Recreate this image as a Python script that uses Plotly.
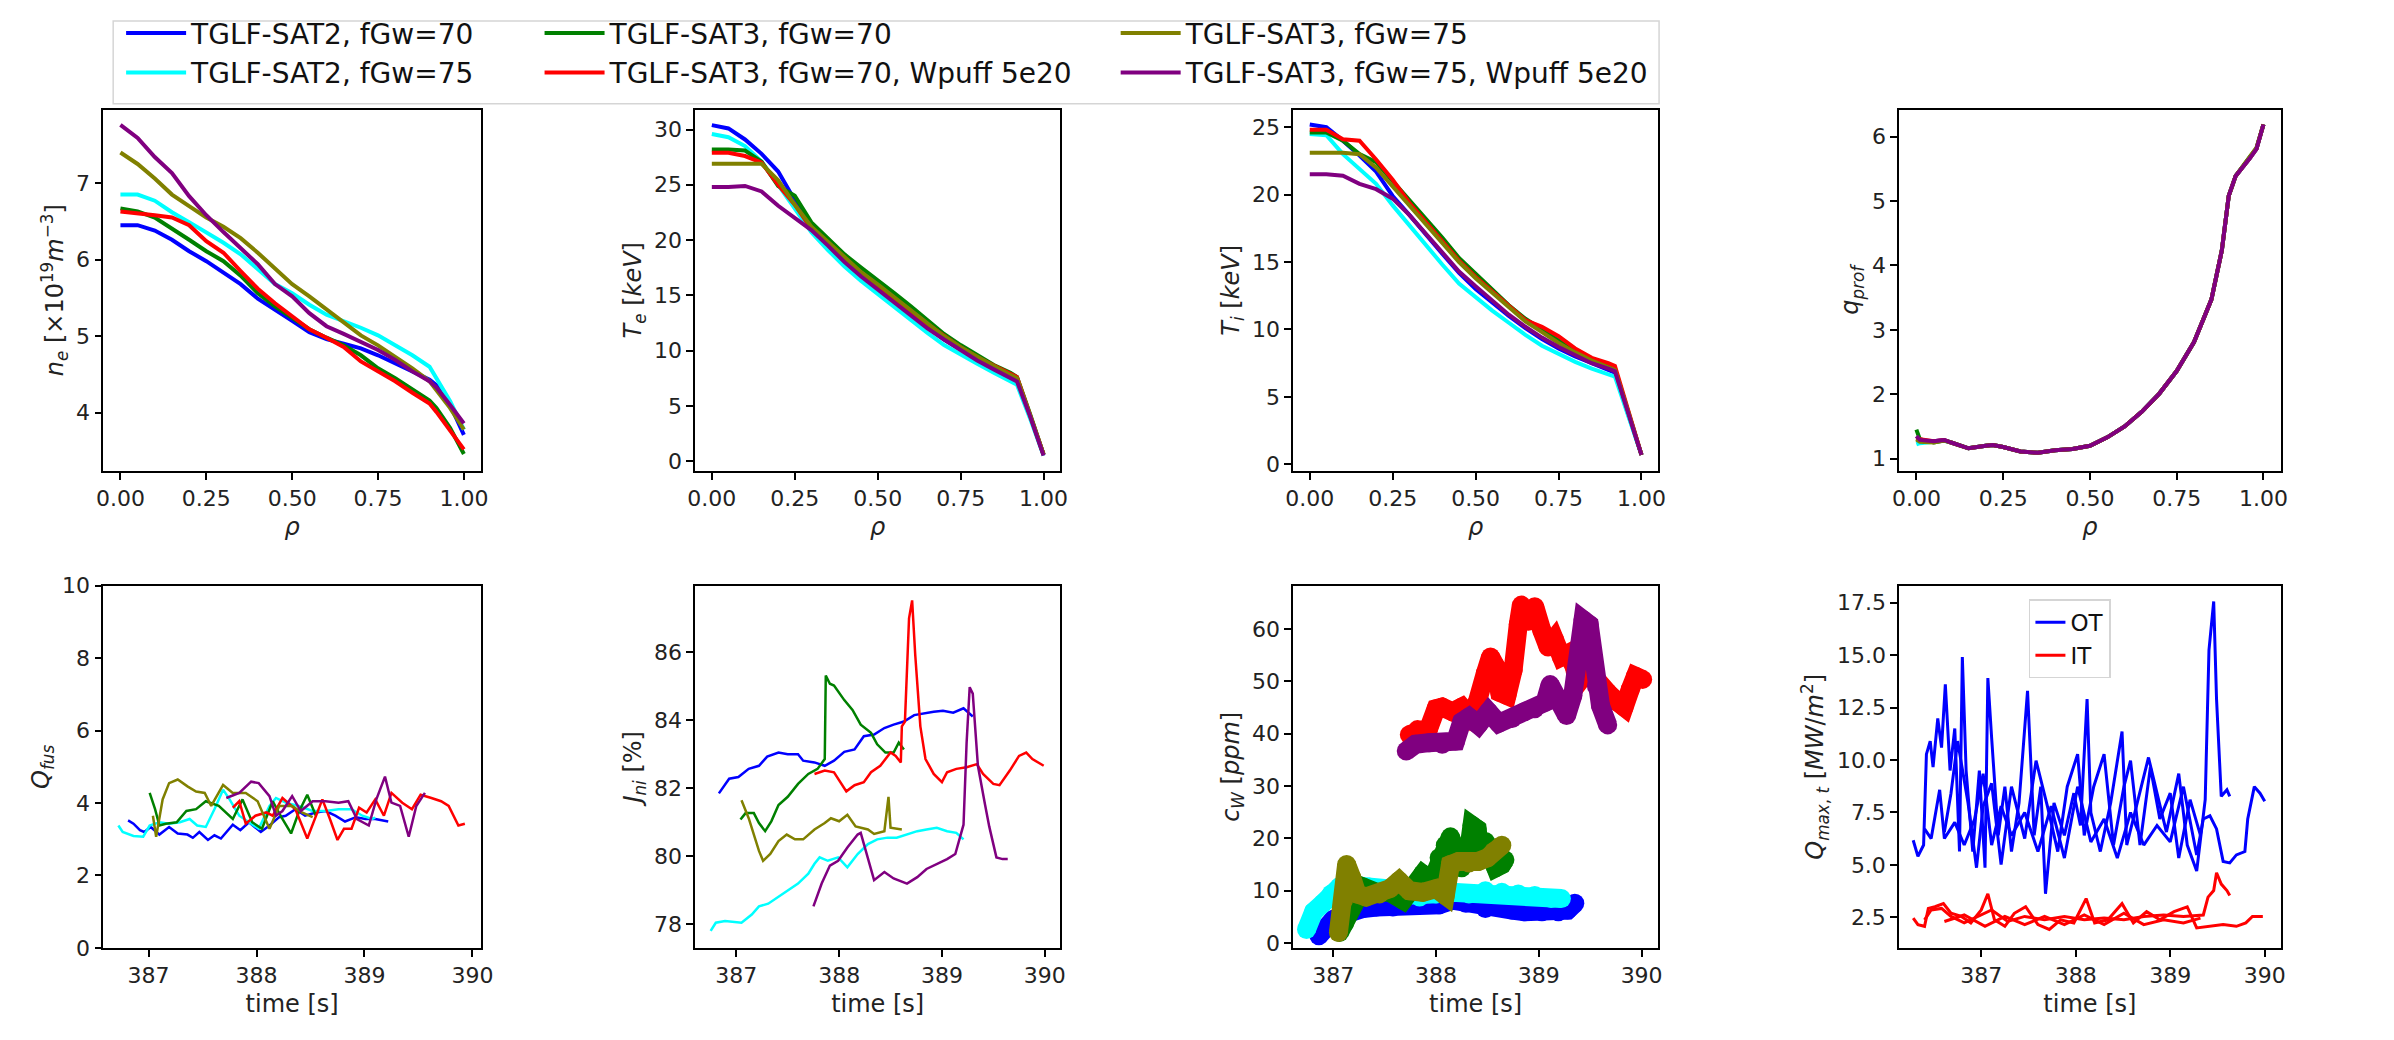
import plotly.graph_objects as go
from plotly.subplots import make_subplots

# ---- profile grid ----
rho = [0.0, 0.05, 0.1, 0.15, 0.2, 0.25, 0.3, 0.35, 0.4, 0.45, 0.5, 0.55, 0.6, 0.65, 0.7, 0.75, 0.8, 0.85, 0.9, 0.92, 0.96, 1.0]

# electron density [1e19 m^-3]
ne_b = [6.45, 6.45, 6.38, 6.26, 6.11, 5.98, 5.83, 5.68, 5.49, 5.35, 5.20, 5.05, 4.96, 4.90, 4.84, 4.75, 4.65, 4.54, 4.43, 4.36, 4.10, 3.71]
ne_c = [6.85, 6.85, 6.77, 6.62, 6.49, 6.36, 6.22, 6.07, 5.88, 5.68, 5.56, 5.41, 5.28, 5.20, 5.11, 5.01, 4.88, 4.75, 4.60, 4.45, 4.15, 3.78]
ne_g = [6.67, 6.63, 6.55, 6.41, 6.26, 6.11, 5.98, 5.79, 5.56, 5.39, 5.24, 5.09, 4.98, 4.88, 4.75, 4.58, 4.45, 4.31, 4.16, 4.06, 3.80, 3.46]
ne_r = [6.63, 6.61, 6.58, 6.55, 6.45, 6.24, 6.09, 5.85, 5.62, 5.43, 5.26, 5.09, 4.98, 4.86, 4.67, 4.54, 4.41, 4.26, 4.12, 4.01, 3.76, 3.52]
ne_o = [7.40, 7.25, 7.06, 6.85, 6.70, 6.55, 6.43, 6.28, 6.09, 5.88, 5.68, 5.52, 5.35, 5.18, 5.01, 4.88, 4.73, 4.58, 4.41, 4.30, 4.06, 3.78]
ne_p = [7.76, 7.59, 7.34, 7.13, 6.83, 6.58, 6.36, 6.15, 5.94, 5.68, 5.52, 5.30, 5.13, 5.03, 4.92, 4.82, 4.69, 4.54, 4.41, 4.33, 4.10, 3.86]

# electron temperature [keV]
te_b = [30.4, 30.1, 29.1, 27.8, 26.2, 23.6, 21.4, 19.8, 18.3, 16.9, 15.8, 14.6, 13.3, 12.1, 11.0, 10.1, 9.2, 8.4, 7.7, 7.3, 4.0, 0.6]
te_c = [29.6, 29.3, 28.5, 27.1, 25.0, 22.8, 20.7, 19.1, 17.6, 16.3, 15.1, 13.9, 12.7, 11.6, 10.5, 9.6, 8.8, 8.0, 7.2, 6.9, 3.8, 0.5]
te_g = [28.2, 28.2, 28.1, 27.1, 24.9, 24.0, 21.6, 20.2, 18.7, 17.5, 16.4, 15.2, 14.0, 12.8, 11.5, 10.5, 9.6, 8.7, 8.0, 7.6, 4.2, 0.6]
te_r = [27.9, 27.9, 27.6, 27.0, 25.0, 23.2, 21.0, 19.6, 18.2, 16.9, 15.9, 14.8, 13.6, 12.4, 11.3, 10.3, 9.4, 8.6, 7.9, 7.6, 4.2, 0.6]
te_o = [26.9, 26.9, 26.9, 26.9, 25.4, 23.2, 21.2, 19.8, 18.4, 17.1, 16.0, 14.8, 13.6, 12.4, 11.3, 10.3, 9.4, 8.6, 7.8, 7.5, 4.1, 0.6]
te_p = [24.8, 24.8, 24.9, 24.4, 23.1, 22.0, 20.9, 19.5, 18.0, 16.7, 15.5, 14.3, 13.1, 12.0, 11.0, 10.0, 9.1, 8.3, 7.5, 7.2, 4.0, 0.5]

# ion temperature [keV]
ti_b = [25.2, 25.0, 24.0, 22.9, 21.7, 19.9, 18.5, 17.0, 15.6, 14.2, 13.0, 12.0, 11.0, 10.1, 9.3, 8.6, 8.0, 7.5, 7.0, 6.8, 3.7, 0.7]
ti_c = [24.5, 24.4, 23.0, 21.9, 20.8, 19.2, 17.7, 16.2, 14.8, 13.4, 12.4, 11.4, 10.5, 9.6, 8.8, 8.2, 7.6, 7.1, 6.7, 6.5, 3.6, 0.7]
ti_g = [24.6, 24.6, 24.0, 23.0, 22.4, 21.0, 19.7, 18.2, 16.8, 15.3, 14.1, 12.9, 11.8, 10.8, 10.0, 9.2, 8.4, 7.8, 7.3, 7.1, 3.9, 0.7]
ti_r = [24.8, 24.8, 24.1, 24.0, 22.6, 21.1, 19.4, 18.0, 16.5, 15.1, 13.9, 12.8, 11.7, 10.7, 10.2, 9.5, 8.6, 7.9, 7.5, 7.3, 4.0, 0.7]
ti_o = [23.1, 23.1, 23.1, 23.0, 22.0, 20.6, 19.2, 17.8, 16.4, 15.0, 13.8, 12.7, 11.6, 10.6, 9.8, 9.0, 8.3, 7.7, 7.2, 7.0, 3.9, 0.7]
ti_p = [21.5, 21.5, 21.4, 20.8, 20.4, 19.7, 18.5, 17.1, 15.7, 14.3, 13.2, 12.1, 11.1, 10.2, 9.4, 8.7, 8.1, 7.5, 7.1, 6.9, 3.8, 0.7]

# safety factor
rho_q = [0.0, 0.01, 0.05, 0.08, 0.1, 0.15, 0.2, 0.22, 0.25, 0.3, 0.35, 0.4, 0.45, 0.5, 0.55, 0.6, 0.65, 0.7, 0.75, 0.8, 0.85, 0.88, 0.9, 0.92, 0.96, 0.98, 1.0]
q_b = [1.28, 1.28, 1.27, 1.29, 1.25, 1.16, 1.20, 1.21, 1.18, 1.11, 1.09, 1.13, 1.15, 1.20, 1.33, 1.50, 1.73, 2.01, 2.36, 2.81, 3.47, 4.23, 5.08, 5.39, 5.66, 5.81, 6.19]
q_c = [1.22, 1.24, 1.26, 1.28, 1.25, 1.16, 1.20, 1.21, 1.18, 1.11, 1.09, 1.13, 1.15, 1.20, 1.33, 1.50, 1.73, 2.01, 2.36, 2.81, 3.47, 4.23, 5.08, 5.39, 5.66, 5.81, 6.19]
q_g = [1.45, 1.30, 1.25, 1.28, 1.25, 1.16, 1.20, 1.21, 1.18, 1.11, 1.09, 1.13, 1.15, 1.20, 1.33, 1.50, 1.73, 2.01, 2.36, 2.81, 3.47, 4.23, 5.08, 5.39, 5.68, 5.82, 6.19]
q_r = [1.32, 1.30, 1.27, 1.29, 1.25, 1.16, 1.20, 1.21, 1.18, 1.11, 1.09, 1.13, 1.15, 1.20, 1.33, 1.50, 1.73, 2.01, 2.36, 2.81, 3.47, 4.23, 5.08, 5.39, 5.66, 5.81, 6.19]
q_o = [1.30, 1.26, 1.25, 1.28, 1.25, 1.16, 1.20, 1.21, 1.18, 1.11, 1.09, 1.13, 1.15, 1.20, 1.33, 1.50, 1.73, 2.01, 2.36, 2.81, 3.47, 4.23, 5.08, 5.39, 5.68, 5.83, 6.19]
q_p = [1.35, 1.29, 1.27, 1.29, 1.25, 1.16, 1.20, 1.21, 1.18, 1.11, 1.09, 1.13, 1.15, 1.20, 1.33, 1.50, 1.73, 2.01, 2.36, 2.81, 3.47, 4.23, 5.08, 5.39, 5.66, 5.81, 6.19]

# ---- fusion gain Q_fus vs time ----
qf_b_t = [386.81, 386.86, 386.92, 386.96, 387.02, 387.10, 387.19, 387.27, 387.36, 387.41, 387.47, 387.55, 387.61, 387.67, 387.78, 387.85, 387.93, 388.04, 388.12, 388.21, 388.27, 388.36, 388.45, 388.55, 388.64, 388.73, 388.82, 388.92, 389.01, 389.10, 389.22]
qf_b = [3.52, 3.43, 3.25, 3.20, 3.34, 3.13, 3.34, 3.16, 3.13, 3.04, 3.20, 2.98, 3.11, 3.02, 3.40, 3.25, 3.47, 3.20, 3.38, 3.61, 3.65, 3.83, 3.65, 3.74, 3.78, 3.65, 3.49, 3.61, 3.56, 3.56, 3.49]
qf_c_t = [386.72, 386.76, 386.86, 386.95, 387.01, 387.10, 387.19, 387.29, 387.38, 387.45, 387.53, 387.61, 387.69, 387.75, 387.84, 387.93, 388.02, 388.12, 388.18, 388.27, 388.39, 388.52, 388.64, 388.76, 388.88, 388.98, 389.07, 389.10]
qf_c = [3.38, 3.20, 3.09, 3.07, 3.38, 3.47, 3.43, 3.47, 3.56, 3.38, 3.34, 3.83, 4.37, 4.10, 3.65, 3.47, 3.29, 3.92, 4.14, 4.01, 3.92, 3.78, 3.78, 3.83, 3.83, 3.65, 3.56, 3.60]
qf_g_t = [387.01, 387.06, 387.10, 387.16, 387.26, 387.35, 387.44, 387.53, 387.65, 387.78, 387.87, 387.96, 388.05, 388.15, 388.24, 388.32, 388.39, 388.47, 388.55]
qf_g = [4.28, 3.83, 3.38, 3.43, 3.47, 3.78, 3.83, 4.05, 3.92, 3.56, 4.10, 3.47, 3.29, 4.05, 3.56, 3.16, 3.74, 4.23, 3.65]
qf_r_t = [387.78, 387.84, 387.90, 387.99, 388.09, 388.15, 388.24, 388.36, 388.47, 388.55, 388.61, 388.68, 388.75, 388.81, 388.88, 388.95, 389.02, 389.10, 389.18, 389.25, 389.35, 389.44, 389.52, 389.62, 389.71, 389.78, 389.87, 389.93]
qf_r = [3.87, 4.05, 3.43, 3.65, 3.74, 3.65, 4.14, 3.83, 3.02, 3.65, 4.10, 3.56, 2.98, 3.29, 3.29, 3.87, 3.74, 4.10, 3.65, 4.28, 4.01, 3.83, 4.23, 4.14, 4.05, 3.92, 3.38, 3.43]
qf_o_t = [387.04, 387.07, 387.13, 387.19, 387.27, 387.36, 387.44, 387.52, 387.58, 387.69, 387.78, 387.90, 388.01, 388.12, 388.21, 388.33, 388.42, 388.52]
qf_o = [3.65, 3.07, 4.10, 4.55, 4.65, 4.46, 4.32, 4.28, 3.92, 4.50, 4.28, 4.28, 4.05, 3.29, 3.92, 3.92, 3.74, 3.61]
qf_p_t = [387.72, 387.84, 387.95, 388.02, 388.12, 388.18, 388.24, 388.33, 388.41, 388.52, 388.64, 388.76, 388.85, 388.93, 389.04, 389.11, 389.19, 389.25, 389.33, 389.41, 389.48, 389.56]
qf_p = [4.14, 4.28, 4.59, 4.55, 4.19, 3.65, 3.78, 4.19, 3.78, 4.05, 4.05, 4.01, 4.05, 3.56, 3.38, 4.10, 4.73, 4.01, 3.92, 3.07, 3.92, 4.28]

# ---- non-inductive current fraction J_ni [%] ----
jn_b_t = [386.83, 386.93, 387.02, 387.12, 387.22, 387.30, 387.41, 387.50, 387.60, 387.65, 387.76, 387.86, 387.95, 388.05, 388.15, 388.24, 388.34, 388.44, 388.53, 388.63, 388.73, 388.82, 388.92, 389.01, 389.11, 389.21, 389.30]
jn_b = [81.85, 82.28, 82.33, 82.57, 82.66, 82.93, 83.05, 83.00, 83.00, 82.81, 82.76, 82.66, 82.81, 83.07, 83.14, 83.53, 83.58, 83.77, 83.87, 83.96, 84.15, 84.20, 84.25, 84.28, 84.22, 84.35, 84.11]
jn_c_t = [386.75, 386.80, 386.89, 386.99, 387.05, 387.15, 387.22, 387.31, 387.41, 387.50, 387.60, 387.70, 387.76, 387.81, 387.89, 387.99, 388.08, 388.18, 388.28, 388.37, 388.47, 388.56, 388.66, 388.76, 388.85, 388.95, 389.05, 389.14, 389.21]
jn_c = [77.81, 78.05, 78.10, 78.07, 78.05, 78.29, 78.53, 78.61, 78.82, 79.01, 79.20, 79.49, 79.78, 79.97, 79.87, 79.97, 79.68, 80.07, 80.36, 80.50, 80.55, 80.55, 80.64, 80.74, 80.79, 80.84, 80.74, 80.69, 80.50]
jn_g_t = [387.04, 387.09, 387.17, 387.22, 387.28, 387.34, 387.41, 387.50, 387.60, 387.70, 387.79, 387.86, 387.87, 387.91, 387.95, 388.05, 388.13, 388.21, 388.31, 388.37, 388.45, 388.53, 388.58, 388.63]
jn_g = [81.08, 81.27, 81.27, 80.98, 80.74, 81.03, 81.51, 81.75, 82.13, 82.42, 82.57, 82.86, 85.31, 85.07, 85.02, 84.59, 84.30, 83.87, 83.63, 83.29, 83.05, 83.05, 83.34, 83.14]
jn_r_t = [387.76, 387.86, 387.95, 388.02, 388.07, 388.15, 388.24, 388.31, 388.40, 388.50, 388.55, 388.60, 388.61, 388.64, 388.68, 388.71, 388.74, 388.79, 388.84, 388.92, 389.00, 389.05, 389.14, 389.24, 389.34, 389.40, 389.50, 389.56, 389.66, 389.75, 389.82, 389.88, 389.99]
jn_r = [82.42, 82.52, 82.47, 82.13, 81.91, 82.09, 82.18, 82.47, 82.66, 83.05, 82.95, 82.76, 83.82, 83.96, 86.99, 87.52, 85.93, 83.82, 82.86, 82.42, 82.18, 82.47, 82.57, 82.62, 82.71, 82.42, 82.13, 82.09, 82.52, 82.95, 83.05, 82.86, 82.66]
jn_o_t = [387.05, 387.12, 387.22, 387.26, 387.33, 387.41, 387.49, 387.57, 387.65, 387.76, 387.86, 387.92, 388.00, 388.08, 388.16, 388.28, 388.34, 388.44, 388.48, 388.50, 388.61]
jn_o = [81.65, 81.12, 80.16, 79.87, 80.07, 80.45, 80.64, 80.50, 80.50, 80.79, 80.98, 81.12, 81.03, 81.22, 80.88, 80.79, 80.66, 80.74, 81.75, 80.84, 80.79]
jn_p_t = [387.75, 387.83, 387.91, 387.99, 388.08, 388.18, 388.21, 388.28, 388.34, 388.44, 388.53, 388.66, 388.76, 388.85, 388.95, 389.05, 389.13, 389.16, 389.21, 389.24, 389.27, 389.30, 389.35, 389.42, 389.46, 389.53, 389.59, 389.64]
jn_p = [78.53, 79.20, 79.73, 79.87, 80.26, 80.64, 80.69, 79.97, 79.30, 79.54, 79.35, 79.20, 79.39, 79.63, 79.78, 79.92, 80.07, 80.40, 80.93, 83.34, 84.97, 84.78, 82.66, 81.51, 80.88, 79.97, 79.92, 79.92]

# ---- tungsten concentration c_W [ppm] ----
cw_b_t = [386.86, 386.92, 387.00, 387.10, 387.19, 387.29, 387.42, 387.58, 387.74, 387.90, 388.03, 388.16, 388.29, 388.48, 388.61, 388.74, 388.86, 389.03, 389.19, 389.28, 389.35]
cw_b = [1.4, 2.9, 4.5, 5.4, 6.3, 6.6, 6.9, 6.9, 7.6, 7.6, 7.3, 8.2, 7.6, 6.6, 6.8, 6.3, 6.0, 6.0, 6.0, 6.3, 7.6]
cw_c_t = [386.74, 386.81, 386.90, 386.98, 387.06, 387.19, 387.35, 387.51, 387.68, 387.84, 388.00, 388.16, 388.32, 388.48, 388.64, 388.80, 388.96, 389.12, 389.22]
cw_c = [2.6, 6.0, 7.6, 9.4, 10.7, 11.0, 10.7, 10.4, 9.1, 8.8, 9.4, 9.7, 9.4, 10.0, 9.7, 9.4, 9.1, 8.5, 8.5]
cw_g_t = [387.06, 387.11, 387.16, 387.23, 387.29, 387.42, 387.55, 387.68, 387.77, 387.87, 387.96, 388.03, 388.09, 388.14, 388.19, 388.25, 388.32, 388.35, 388.40, 388.43, 388.48, 388.53, 388.58, 388.64, 388.67]
cw_g = [2.0, 3.8, 6.3, 9.4, 10.7, 9.7, 9.7, 8.2, 10.0, 13.2, 11.9, 16.3, 18.7, 20.3, 17.5, 14.4, 18.1, 22.5, 21.8, 16.3, 19.4, 17.5, 14.4, 15.0, 15.9]
cw_r_t = [387.74, 387.82, 387.93, 388.00, 388.06, 388.16, 388.25, 388.32, 388.40, 388.48, 388.53, 388.58, 388.62, 388.69, 388.75, 388.80, 388.83, 388.90, 388.96, 389.03, 389.09, 389.15, 389.22, 389.28, 389.35, 389.41, 389.48, 389.57, 389.67, 389.77, 389.83, 389.89, 389.94, 390.01]
cw_r = [39.8, 40.8, 41.1, 44.8, 45.1, 44.2, 45.1, 43.5, 46.0, 51.6, 54.7, 52.9, 47.9, 47.3, 52.2, 60.9, 64.6, 61.5, 64.3, 59.7, 56.6, 58.1, 54.7, 55.3, 52.2, 50.4, 52.2, 49.8, 47.9, 46.0, 45.1, 48.5, 51.0, 50.4]
cw_o_t = [387.05, 387.10, 387.13, 387.18, 387.23, 387.32, 387.45, 387.55, 387.64, 387.74, 387.87, 388.00, 388.09, 388.14, 388.22, 388.32, 388.41, 388.50, 388.56, 388.64]
cw_o = [2.0, 8.2, 15.0, 12.5, 9.4, 8.8, 9.4, 10.4, 11.9, 10.0, 9.7, 10.4, 9.1, 15.0, 15.6, 15.3, 15.6, 16.3, 17.5, 18.7]
cw_p_t = [387.71, 387.80, 387.93, 388.06, 388.19, 388.25, 388.32, 388.41, 388.51, 388.61, 388.74, 388.86, 388.96, 389.06, 389.11, 389.17, 389.27, 389.33, 389.38, 389.43, 389.49, 389.52, 389.56, 389.60, 389.67]
cw_p = [36.7, 38.0, 38.3, 38.0, 38.6, 42.3, 43.2, 41.7, 44.2, 42.0, 42.9, 44.2, 44.8, 46.0, 49.4, 46.6, 43.5, 47.3, 53.5, 61.8, 60.9, 54.7, 49.1, 45.4, 41.7]

# ---- peak target heat flux [MW/m^2], outer (OT) and inner (IT) targets ----
ot1_t = [386.28, 386.33, 386.39, 386.42, 386.46, 386.49, 386.54, 386.58, 386.62, 386.67, 386.72, 386.77, 386.80, 386.84, 386.91, 386.98, 387.04, 387.07, 387.11, 387.18, 387.25, 387.32, 387.40, 387.49, 387.56, 387.63, 387.68, 387.77, 387.88, 387.98, 388.05, 388.12, 388.16, 388.26, 388.37, 388.49, 388.54, 388.65, 388.77, 388.86, 388.96, 389.09, 389.18, 389.28, 389.37, 389.41, 389.46, 389.49, 389.54, 389.60, 389.63]
ot1 = [6.18, 5.41, 5.95, 10.28, 10.90, 9.66, 11.98, 10.59, 13.60, 9.50, 11.50, 5.64, 14.90, 9.50, 5.64, 9.50, 4.87, 13.90, 11.05, 6.41, 8.73, 5.64, 7.96, 13.29, 6.41, 8.73, 3.63, 7.96, 6.41, 8.42, 6.88, 12.90, 7.50, 5.64, 7.96, 11.36, 5.95, 7.96, 10.12, 8.42, 6.57, 9.35, 5.95, 4.71, 8.11, 15.23, 17.55, 12.90, 8.27, 8.58, 8.27]
ot2_t = [386.40, 386.47, 386.56, 386.61, 386.72, 386.82, 386.93, 387.02, 387.11, 387.21, 387.32, 387.46, 387.60, 387.74, 387.88, 388.02, 388.16, 388.30, 388.44, 388.58, 388.72, 388.86, 389.00, 389.14, 389.28, 389.35, 389.42, 389.49, 389.56, 389.63, 389.70, 389.79, 389.82, 389.89, 389.95, 390.00]
ot2 = [6.72, 6.26, 8.58, 6.26, 7.03, 5.95, 7.19, 9.35, 5.95, 7.80, 6.41, 7.50, 5.64, 7.80, 5.33, 8.73, 6.10, 7.19, 5.33, 7.50, 5.95, 6.88, 6.10, 8.73, 5.48, 7.19, 7.34, 6.72, 5.17, 5.10, 5.48, 5.64, 7.19, 8.73, 8.42, 8.04]
ot3_t = [386.61, 386.68, 386.75, 386.86, 386.95, 387.02, 387.11, 387.21, 387.32, 387.46, 387.58, 387.70, 387.81, 387.91, 388.02, 388.09, 388.19, 388.30, 388.40, 388.51, 388.58, 388.68, 388.79, 388.89, 389.00, 389.09, 389.21, 389.32]
ot3 = [6.57, 8.42, 10.90, 7.96, 4.87, 7.80, 8.89, 5.02, 8.73, 6.26, 9.97, 7.80, 5.64, 8.73, 10.28, 6.41, 8.73, 10.28, 5.95, 8.73, 9.97, 5.95, 9.66, 7.19, 8.42, 5.33, 8.11, 6.41]
it1_t = [386.28, 386.33, 386.40, 386.44, 386.51, 386.60, 386.68, 386.79, 386.89, 387.00, 387.07, 387.14, 387.25, 387.35, 387.47, 387.60, 387.72, 387.84, 387.98, 388.11, 388.20, 388.34, 388.49, 388.61, 388.75, 388.89, 389.04, 389.18, 389.28, 389.42, 389.56, 389.70, 389.80, 389.87, 389.98]
it1 = [2.47, 2.16, 2.08, 2.93, 3.01, 3.16, 2.70, 2.55, 2.24, 2.86, 3.63, 2.39, 2.08, 2.70, 3.01, 2.16, 1.93, 2.39, 2.24, 3.40, 2.24, 2.39, 3.16, 2.24, 2.78, 2.39, 2.78, 3.01, 2.00, 2.08, 2.16, 2.08, 2.24, 2.55, 2.55]
it2_t = [386.40, 386.47, 386.58, 386.68, 386.82, 386.96, 387.11, 387.28, 387.46, 387.67, 387.88, 388.09, 388.30, 388.51, 388.72, 388.93, 389.14, 389.35, 389.40, 389.46, 389.49, 389.54, 389.60, 389.63]
it2 = [2.39, 2.86, 2.93, 2.55, 2.24, 2.55, 2.86, 2.31, 2.55, 2.39, 2.55, 2.39, 2.47, 2.39, 2.55, 2.62, 2.55, 2.62, 3.47, 3.78, 4.63, 4.09, 3.78, 3.55]
it3_t = [386.61, 386.82, 387.04, 387.25, 387.46, 387.67, 387.88, 388.09, 388.30, 388.51, 388.72, 388.93, 389.14, 389.32]
it3 = [2.31, 2.62, 2.08, 2.55, 2.16, 2.55, 2.16, 2.62, 2.16, 2.70, 2.16, 2.39, 2.24, 2.47]

# ---- run labels / colours ----
names = ['TGLF-SAT2, fGw=70', 'TGLF-SAT2, fGw=75', 'TGLF-SAT3, fGw=70',
         'TGLF-SAT3, fGw=70, Wpuff 5e20', 'TGLF-SAT3, fGw=75', 'TGLF-SAT3, fGw=75, Wpuff 5e20']
colors = ['#0000ff', '#00ffff', '#008000', '#ff0000', '#808000', '#800080']
# the top legend has three columns of two entries each
leg_of = ['legend', 'legend', 'legend3', 'legend3', 'legend4', 'legend4']

profiles = [
    (1, 1, rho, [ne_b, ne_c, ne_g, ne_r, ne_o, ne_p]),
    (1, 2, rho, [te_b, te_c, te_g, te_r, te_o, te_p]),
    (1, 3, rho, [ti_b, ti_c, ti_g, ti_r, ti_o, ti_p]),
    (1, 4, rho_q, [q_b, q_c, q_g, q_r, q_o, q_p]),
]
traces_t = [
    (2, 1, [(qf_b_t, qf_b), (qf_c_t, qf_c), (qf_g_t, qf_g), (qf_r_t, qf_r), (qf_o_t, qf_o), (qf_p_t, qf_p)]),
    (2, 2, [(jn_b_t, jn_b), (jn_c_t, jn_c), (jn_g_t, jn_g), (jn_r_t, jn_r), (jn_o_t, jn_o), (jn_p_t, jn_p)]),
]
cw_runs = [(cw_b_t, cw_b), (cw_c_t, cw_c), (cw_g_t, cw_g), (cw_r_t, cw_r), (cw_o_t, cw_o), (cw_p_t, cw_p)]

FONT = 'DejaVu Sans'
fig = make_subplots(rows=2, cols=4)

for row, col, xx, series in profiles:
    for i, yy in enumerate(series):
        fig.add_trace(go.Scatter(
            x=xx, y=yy, mode='lines', name=names[i],
            line=dict(color=colors[i], width=4),
            showlegend=(col == 1), legend=leg_of[i]),
            row=row, col=col)

for row, col, runs in traces_t:
    for i, (tt, yy) in enumerate(runs):
        fig.add_trace(go.Scatter(
            x=tt, y=yy, mode='lines', name=names[i],
            line=dict(color=colors[i], width=2.5),
            showlegend=False), row=row, col=col)

for i, (tt, yy) in enumerate(cw_runs):
    fig.add_trace(go.Scatter(
        x=tt, y=yy, mode='lines+markers', name=names[i],
        line=dict(color=colors[i], width=19),
        marker=dict(color=colors[i], size=19, line=dict(width=0)),
        showlegend=False), row=2, col=3)

for k, (tt, yy) in enumerate([(ot1_t, ot1), (ot2_t, ot2), (ot3_t, ot3)]):
    fig.add_trace(go.Scatter(x=tt, y=yy, mode='lines', name='OT',
                             line=dict(color='#0000ff', width=3),
                             showlegend=(k == 0), legend='legend2'), row=2, col=4)
for k, (tt, yy) in enumerate([(it1_t, it1), (it2_t, it2), (it3_t, it3)]):
    fig.add_trace(go.Scatter(x=tt, y=yy, mode='lines', name='IT',
                             line=dict(color='#ff0000', width=3),
                             showlegend=(k == 0), legend='legend2'), row=2, col=4)

# page is 2394x1040, the html body adds an 8px margin around the figure
W, H, PAD = 2394, 1040, 8
FW, FH = W - 2 * PAD, H - 2 * PAD


def px_x(p):
    return (p - PAD) / FW


def px_y(p):
    return 1 - (p - PAD) / FH


xdom = [(96, 477), (693, 1061), (1296, 1664), (1907, 2292)]
ydom = [(98, 469), (587, 959)]

x_ranges = [[-0.05, 1.05]] * 4 + [[386.58, 390.08], [386.6, 390.15], [386.61, 390.16], [386.13, 390.17]]
y_ranges = [[3.24, 7.96], [-0.88, 31.8], [-0.48, 26.3], [0.81, 6.42],
            [0, 10], [77.31, 87.95], [-0.93, 68.3], [1.05, 18.3]]
y_dticks = [1, 5, 5, 1, 2, 2, 10, 2.5]
y_titles = [
    '<i>n</i><sub><i>e</i></sub> [×10<sup>19</sup><i>m</i><sup>−3</sup>]',
    '<i>T</i><sub><i>e</i></sub> [<i>keV</i>]',
    '<i>T</i><sub><i>i</i></sub> [<i>keV</i>]',
    '<i>q</i><sub><i>prof</i></sub>',
    '<i>Q</i><sub><i>fus</i></sub>',
    '<i>J</i><sub><i>ni</i></sub> [%]',
    '<i>c</i><sub><i>W</i></sub> [<i>ppm</i>]',
    '<i>Q</i><sub><i>max</i>, <i>t</i></sub> [<i>MW</i>/<i>m</i><sup>2</sup>]',
]

axis_common = dict(showline=True, linecolor='black', linewidth=1.5, mirror=True,
                   ticks='outside', ticklen=7, tickwidth=1.5, tickcolor='black',
                   showgrid=False, zeroline=False,
                   tickfont=dict(family=FONT, size=22, color='#222'),
                   title_font=dict(family=FONT, size=24, color='#222'))

for n in range(8):
    r, c = divmod(n, 4)
    sx = '' if n == 0 else str(n + 1)
    x0, x1 = xdom[c]
    y0, y1 = ydom[r]
    fig.layout['xaxis' + sx].update(
        domain=[px_x(x0), px_x(x1)], range=x_ranges[n],
        dtick=0.25 if r == 0 else 1, tick0=0,
        tickformat='.2f' if r == 0 else 'd',
        title_text='<i>ρ</i>' if r == 0 else 'time [s]', title_standoff=8,
        **axis_common)
    fig.layout['yaxis' + sx].update(
        domain=[px_y(y1), px_y(y0)], range=y_ranges[n],
        dtick=y_dticks[n], tick0=0,
        tickformat='.1f' if n == 7 else None,
        title_text=y_titles[n], title_standoff=6,
        **axis_common)

# frame shared by the three legend columns
fig.add_shape(type='rect', xref='paper', yref='paper',
              x0=px_x(106), x1=px_x(1665), y0=px_y(92), y1=px_y(7),
              line=dict(color='#d5d5d5', width=1.5), fillcolor='white', layer='below')

top_leg = dict(orientation='v', xanchor='left', yanchor='top', y=px_y(-6),
               bgcolor='rgba(0,0,0,0)', borderwidth=0, itemwidth=60,
               font=dict(family=FONT, size=28, color='#111'))

fig.update_layout(
    width=FW, height=FH,
    margin=dict(l=0, r=0, t=0, b=0),
    paper_bgcolor='white', plot_bgcolor='white',
    font=dict(family=FONT, size=22, color='#222'),
    legend=dict(top_leg, x=px_x(114)),
    legend3=dict(top_leg, x=px_x(536)),
    legend4=dict(top_leg, x=px_x(1117)),
    legend2=dict(x=px_x(2038), y=px_y(601), xanchor='left', yanchor='top',
                 bgcolor='rgba(255,255,255,0.8)', bordercolor='#d5d5d5', borderwidth=1.5,
                 font=dict(family=FONT, size=23, color='#111')),
)

fig.write_html("out.html")
